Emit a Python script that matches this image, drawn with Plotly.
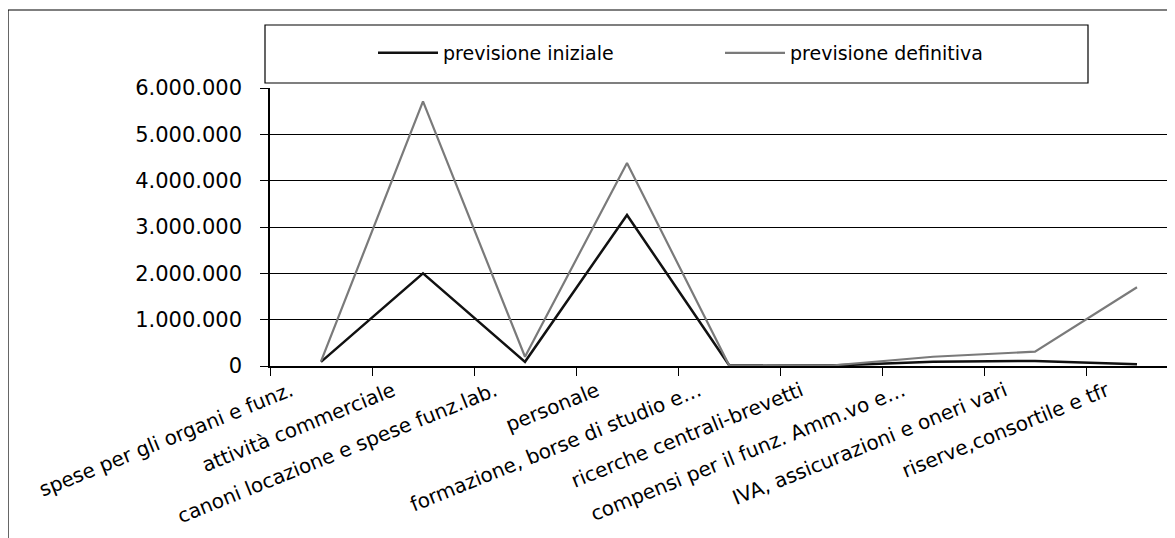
import plotly.graph_objects as go

categories = [
    "spese per gli organi e funz.",
    "attività commerciale",
    "canoni locazione e spese funz.lab.",
    "personale",
    "formazione, borse di studio e…",
    "ricerche centrali-brevetti",
    "compensi per il funz. Amm.vo e…",
    "IVA, assicurazioni e oneri vari",
    "riserve,consortile e tfr",
]
previsione_iniziale = [90000, 2000000, 90000, 3260000, 20000, 10000, 90000, 110000, 40000]
previsione_definitiva = [100000, 5710000, 200000, 4380000, 20000, 10000, 200000, 310000, 1700000]
y_ticks = [0, 1000000, 2000000, 3000000, 4000000, 5000000, 6000000]
y_tick_text = ["0", "1.000.000", "2.000.000", "3.000.000", "4.000.000", "5.000.000", "6.000.000"]

OFF = 8  # page body margin
W, H = 1175 - OFF, 538 - OFF
L, T, B_PX = 270 - OFF, 88 - OFF, 366 - OFF
plot_w = W - L
plot_h = B_PX - T


def px_x(p):
    return (p - OFF - L) / plot_w


def px_y(p):
    return (B_PX - (p - OFF)) / plot_h


FONT = "'DejaVu Sans', Arial, sans-serif"
n = len(categories)
xs = list(range(n))
boundaries = [i - 0.5 for i in range(n)]

fig = go.Figure()
fig.add_trace(go.Scatter(
    x=xs, y=previsione_iniziale, mode="lines",
    name="previsione iniziale", line=dict(color="#111111", width=2.5)))
fig.add_trace(go.Scatter(
    x=xs, y=previsione_definitiva, mode="lines",
    name="previsione definitiva", line=dict(color="#7a7a7a", width=2.2)))

cat_w = 102
fig.update_xaxes(
    type="linear",
    range=[-0.5, -0.5 + plot_w / cat_w],
    tickmode="array", tickvals=xs, ticktext=categories,
    ticks="", tickangle=-22, tickfont=dict(family=FONT, size=20, color="black"),
    ticklabelstandoff=4, ticklabelshift=-30,
    minor=dict(tickmode="array", tickvals=boundaries, ticks="outside", ticklen=8,
               tickcolor="black", tickwidth=1, showgrid=False),
    showline=True, linecolor="black", linewidth=1.5, showgrid=False, zeroline=False,
)
fig.update_yaxes(
    range=[0, 6000000], tickmode="array", tickvals=y_ticks, ticktext=y_tick_text,
    ticks="outside", ticklen=8, tickcolor="black", tickwidth=1,
    tickfont=dict(family=FONT, size=21, color="black"),
    showline=True, linecolor="black", linewidth=1.5,
    showgrid=True, gridcolor="black", gridwidth=1.3, zeroline=False,
    ticklabelstandoff=14,
)

# outer chart border and legend frame
fig.add_shape(type="rect", xref="paper", yref="paper",
              x0=px_x(8), x1=px_x(1190), y0=px_y(570), y1=px_y(10),
              line=dict(color="black", width=1.2), fillcolor="rgba(0,0,0,0)", layer="below")
fig.add_shape(type="rect", xref="paper", yref="paper",
              x0=px_x(265), x1=px_x(1088), y0=px_y(83), y1=px_y(25),
              line=dict(color="black", width=1.2), fillcolor="white")

fig.update_layout(
    width=W, height=H,
    margin=dict(l=L, r=0, t=T, b=H - B_PX, pad=0),
    paper_bgcolor="white", plot_bgcolor="white",
    font=dict(family=FONT, color="black"),
    showlegend=True,
    legend=dict(
        orientation="h", x=px_x(373), xanchor="left", y=px_y(53), yanchor="middle",
        font=dict(family=FONT, size=19, color="black"),
        bgcolor="rgba(0,0,0,0)", borderwidth=0,
        entrywidth=272, entrywidthmode="pixels", itemwidth=60,
    ),
)

fig.write_html("out.html")
